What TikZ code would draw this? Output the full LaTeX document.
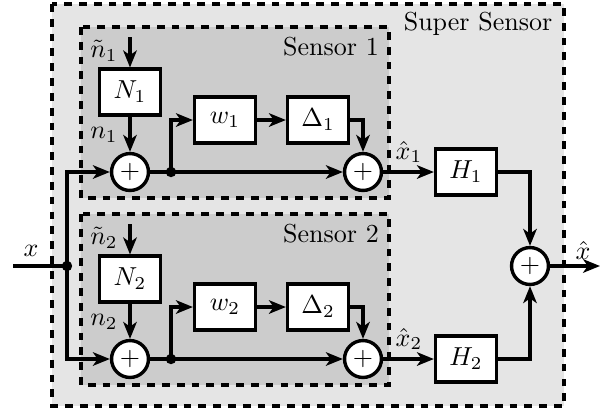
\documentclass[tikz,border=0pt]{standalone}
\usetikzlibrary{arrows.meta}
\begin{document}
\begin{tikzpicture}[x=0.3846pt,y=-0.3846pt,
  blk/.style={draw, fill=white, line width=1.2pt, minimum width=23.5pt, minimum height=17.7pt, inner sep=0pt},
  sumc/.style={draw, fill=white, circle, line width=1.3pt, minimum size=14.2pt, inner sep=0pt},
  con/.style={line width=1.2pt, -{Stealth[length=6.5pt,width=5.2pt,inset=1.8pt]}},
  ln/.style={line width=1.2pt},
  frame/.style={draw, line width=1.2pt, dash pattern=on 3pt off 2.7pt}]
\useasboundingbox (0,0) rectangle (604,410);
\path[frame, fill=black!10] (52,4) rectangle (564,406);
\path[frame, fill=black!20] (81,27) rectangle (389,198);
\path[frame, fill=black!20] (81,214) rectangle (389,385);
\node[anchor=base] (lss) at (478,30) {Super Sensor};
\foreach \i/\dy in {1/0,2/187}{
  \node (ls\i) at (331,47+\dy) {Sensor \i};
  \node[blk] (N\i) at (130,92+\dy) {$N_\i$};
  \node[blk] (w\i) at (225,120+\dy) {$w_\i$};
  \node[blk] (D\i) at (318,120+\dy) {$\Delta_\i$};
  \node[sumc] (s\i) at (130,172+\dy) {$+$};
  \node[sumc] (t\i) at (363,172+\dy) {$+$};
  \node[blk] (H\i) at (466,172+\dy) {$H_\i$};
  \coordinate (nt\i) at (130,37+\dy);
  \coordinate (j\i) at (171,172+\dy);
  \node (lnt\i) at (104,51+\dy) {$\tilde{n}_\i$};
  \node (ln\i) at (104,135+\dy) {$n_\i$};
  \node (lx\i) at (409,152+\dy) {$\hat{x}_\i$};
  \draw[con] (nt\i) -- (N\i);
  \draw[con] (N\i) -- (s\i);
  \draw[con] (s\i) -- (t\i);
  \draw[con] (j\i) |- (w\i);
  \draw[con] (w\i) -- (D\i);
  \draw[con] (D\i) -| (t\i);
  \draw[con] (t\i) -- (H\i);
  \fill (j\i) circle[radius=2pt];
}
\node[sumc] (fs) at (530,266) {$+$};
\coordinate (xin) at (13,266);
\coordinate (xj) at (67,266);
\coordinate (xout) at (600,266);
\node (lx) at (31,251) {$x$};
\node (lxh) at (583,250) {$\hat{x}$};
\draw[ln] (xin) -- (xj);
\draw[con] (xj) |- (s1);
\draw[con] (xj) |- (s2);
\fill (xj) circle[radius=2pt];
\draw[con] (H1) -| (fs);
\draw[con] (H2) -| (fs);
\draw[con] (fs) -- (xout);
\end{tikzpicture}
\end{document}
